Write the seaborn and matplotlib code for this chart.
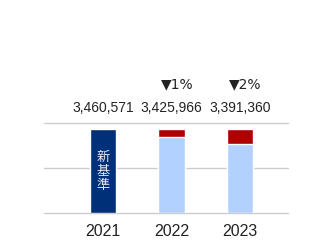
import matplotlib
matplotlib.use("Agg")
import matplotlib.pyplot as plt
import seaborn as sns
import pandas as pd

years = ["2021", "2022", "2023"]
totals = [93.3, 93.3, 93.3]          # normalized bar height
base_part = [93.3, 84.4, 76.7]       # lower (blue) part
value_labels = ["3,460,571", "3,425,966", "3,391,360"]
change_labels = ["", "▼1%", "▼2%"]
inner_label = "新\n基\n準"

sns.set_theme(style="white")
plt.rcParams['font.family'] = ['Liberation Sans', 'Noto Sans CJK JP', 'DejaVu Sans']

fig = plt.figure(figsize=(3.26, 2.52), dpi=100)
ax = fig.add_axes([44/326, (252-213)/252, (288-44)/326, 90/252])

df = pd.DataFrame({"year": years, "total": totals, "base": base_part})
sns.barplot(data=df, x="year", y="total", hue="year",
            palette=["#003078", "#b00000", "#b00000"], width=0.38,
            legend=False, ax=ax, saturation=1)
sns.barplot(data=df, x="year", y="base", hue="year",
            palette=["#003078", "#b3d1ff", "#b3d1ff"], width=0.38,
            legend=False, ax=ax, saturation=1)

ax.set_ylim(0, 100)
ax.set_xlim(-0.861, 2.70)
ax.set_yticks([0, 50, 100])
ax.set_yticklabels([])
ax.yaxis.grid(True, color="#cccccc", linewidth=1)
for gl in ax.get_ygridlines():
    gl.set_clip_on(False)
ax.set_axisbelow(True)
for s in ax.spines.values():
    s.set_visible(False)
ax.set_xlabel("")
ax.set_ylabel("")
ax.tick_params(axis="x", length=0, labelsize=11.5, colors="#222222", pad=8)
ax.tick_params(axis="y", length=0)

for i, (v, c) in enumerate(zip(value_labels, change_labels)):
    ax.text(i, 116.7, v, ha="center", va="center", fontsize=10,
            color="#222222", clip_on=False)
    if c:
        ax.text(i + 0.08, 143.3, c, ha="center", va="center", fontsize=10,
                color="#222222", clip_on=False,
                family=['DejaVu Sans', 'Liberation Sans'])

ax.text(0, 46, inner_label, ha="center", va="center", fontsize=9.5,
        color="#e8e8f0", linespacing=1.1,
        family=['Noto Sans CJK JP', 'DejaVu Sans'])

fig.savefig("out.png", dpi=100)
